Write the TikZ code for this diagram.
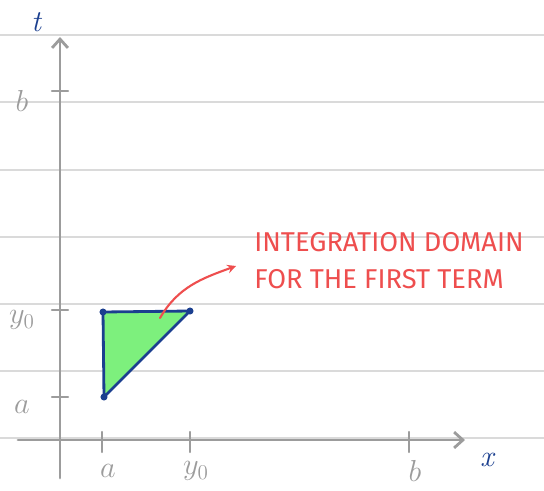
\documentclass[tikz,border=0pt]{standalone}
\usepackage{fontspec}
\usetikzlibrary{arrows.meta}
\newfontfamily\notefont{Fira Sans}
\definecolor{axisgray}{HTML}{9C9C9C}
\definecolor{rulegray}{HTML}{DADADA}
\definecolor{inkblue}{HTML}{1B3F8F}
\definecolor{areagreen}{HTML}{7DF07D}
\definecolor{notered}{HTML}{EE4E4E}
\tikzset{
	axis/.style={axisgray, line width=1.6pt, line cap=round},
	tick/.style={axisgray, line width=1.4pt, line cap=round},
	lbl/.style={axisgray, font=\LARGE},
	vertex/.style={circle, fill=inkblue, inner sep=0pt, minimum size=4pt}
}
\begin{document}
\begin{tikzpicture}[x=0.02cm, y=-0.02cm, line join=round, line cap=round, >=stealth]
	\useasboundingbox (0,0) rectangle (544,490);
	% ruled paper
	\foreach \y in {35,102,170,237,304,371,438}
		\draw[rulegray, line width=0.8pt] (0,\y)--(544,\y);
	% axes
	\coordinate (O) at (60,440);
	\coordinate (tend) at (60,37);
	\coordinate (tbot) at (60,478);
	\coordinate (xend) at (465,440);
	\coordinate (xbeg) at (18,440);
	\draw[axis, ->, >={Straight Barb[length=5pt,width=9pt]}] (tbot)--(tend);
	\draw[axis, ->, >={Straight Barb[length=5pt,width=9pt]}] (xbeg)--(xend);
	\node[inkblue, font=\LARGE\itshape] (tlabel) at (36,22) {t};
	\node[inkblue, font=\LARGE\itshape] (xlabel) at (487,460) {x};
	% ticks on t
	\foreach \y/\name/\txt in {91/tb/b,310/ty/y_0,397/ta/a}{
		\draw[tick] (52,\y)--(68,\y);
		\node[lbl] (\name) at (22,\y+10) {$\txt$};
	}
	% ticks on x
	\foreach \x/\name/\txt in {102/xa/a,190/xy/y_0,409/xb/b}{
		\draw[tick] (\x,432)--(\x,452);
		\node[lbl] (\name) at (\x+6,471) {$\txt$};
	}
	% domain
	\coordinate (A) at (103,312);
	\coordinate (B) at (190,311);
	\coordinate (C) at (104,397);
	\filldraw[fill=areagreen, draw=inkblue, line width=1.6pt] (A)--(B)--(C)--cycle;
	\foreach \p in {A,B,C}
		\node[vertex] at (\p) {};
	% note
	\node[notered, anchor=north west, align=left, inner sep=0pt, font=\notefont\fontsize{15.5}{19}\selectfont] (note) at (254,232)
		{INTEGRATION DOMAIN\\[2pt]FOR THE FIRST TERM};
	\coordinate (pin) at (160,318);
	\draw[notered, line width=1.2pt, ->] (pin) to[out=60, in=200] (236,266);
\end{tikzpicture}
\end{document}
